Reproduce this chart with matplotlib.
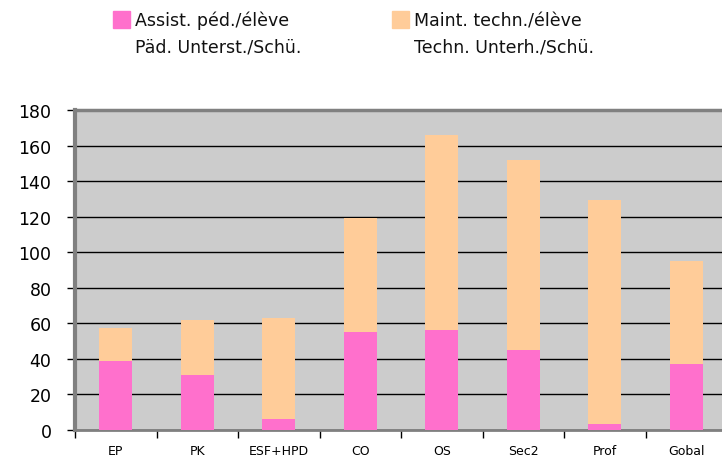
import numpy as np
import matplotlib
matplotlib.use("Agg")
import matplotlib.pyplot as plt
from matplotlib.patches import Rectangle

categories = ["EP", "PK", "ESF+HPD", "CO", "OS", "Sec2", "Prof", "Gobal"]
assist = [39, 31, 6, 55, 56, 45, 3.5, 37]
maint = [18.5, 31, 57, 64, 110, 107, 126, 58]
yticks = [0, 20, 40, 60, 80, 100, 120, 140, 160, 180]

pink = "#FF70CC"
peach = "#FFCC99"

fig = plt.figure(figsize=(7.22, 4.60), dpi=100)
ax = fig.add_axes([75 / 722, 1 - 431 / 460, 652 / 722, 320 / 460])
ax.set_facecolor("#CCCCCC")

x = np.arange(len(categories))
ax.bar(x, assist, width=0.4, color=pink, zorder=3)
ax.bar(x, maint, width=0.4, bottom=assist, color=peach, zorder=3)

ax.set_ylim(0, 180)
ax.set_xlim(-0.5, len(categories) - 0.5)
ax.set_yticks(yticks)
ax.tick_params(axis="y", labelsize=12.5, length=6, width=1, pad=11, direction="out")
ax.yaxis.grid(True, color="black", linewidth=1, zorder=1)
ax.set_axisbelow(True)

# category labels between boundary ticks
ax.set_xticks(x)
ax.set_xticklabels(categories, fontsize=9)
ax.tick_params(axis="x", length=0, pad=10)
ax.set_xticks(np.arange(len(categories) + 1) - 0.5, minor=True)
ax.tick_params(axis="x", which="minor", length=6, width=1, direction="out")

ax.spines["right"].set_visible(False)
ax.spines["left"].set_color("#808080")
ax.spines["left"].set_linewidth(3)
ax.spines["top"].set_color("#808080")
ax.spines["top"].set_linewidth(2.5)
ax.spines["top"].set_zorder(4)
ax.spines["bottom"].set_color("#808080")
ax.spines["bottom"].set_linewidth(2)

# legend
fig.patches.append(Rectangle((113 / 722, 1 - 29 / 460), 17 / 722, 17 / 460,
                             transform=fig.transFigure, color=pink))
fig.patches.append(Rectangle((392 / 722, 1 - 29 / 460), 17 / 722, 17 / 460,
                             transform=fig.transFigure, color=peach))
fig.text(135 / 722, 1 - 21 / 460, "Assist. péd./élève", fontsize=12.5, va="center", color="#111111")
fig.text(135 / 722, 1 - 47 / 460, "Päd. Unterst./Schü.", fontsize=12.5, va="center", color="#111111")
fig.text(414 / 722, 1 - 21 / 460, "Maint. techn./élève", fontsize=12.5, va="center", color="#111111")
fig.text(414 / 722, 1 - 47 / 460, "Techn. Unterh./Schü.", fontsize=12.5, va="center", color="#111111")

fig.savefig("out.png", dpi=100)
